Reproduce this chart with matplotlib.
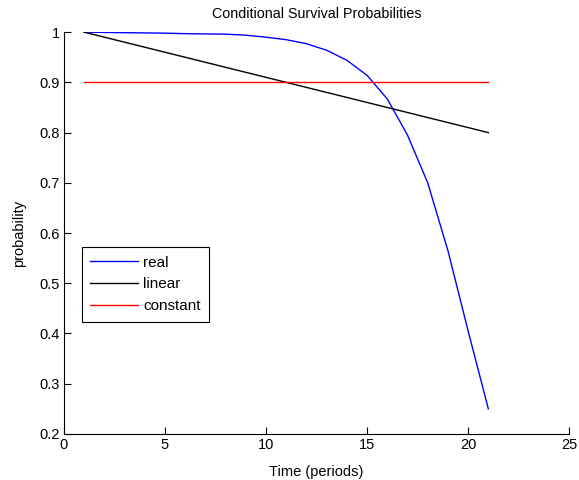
import numpy as np
import matplotlib
matplotlib.use("Agg")
import matplotlib.pyplot as plt

plt.rcParams['font.family'] = ['Liberation Sans', 'DejaVu Sans']

periods = list(range(1, 22))
real = [1.000, 0.9995, 0.999, 0.9985, 0.998, 0.997, 0.9965, 0.996, 0.994, 0.990,
        0.985, 0.977, 0.964, 0.944, 0.914, 0.867, 0.795, 0.700, 0.565, 0.405, 0.250]
linear = [1.00, 0.99, 0.98, 0.97, 0.96, 0.95, 0.94, 0.93, 0.92, 0.91,
          0.90, 0.89, 0.88, 0.87, 0.86, 0.85, 0.84, 0.83, 0.82, 0.81, 0.80]
constant = [0.9] * 21

xticks = [0, 5, 10, 15, 20, 25]
yticks = [0.2, 0.3, 0.4, 0.5, 0.6, 0.7, 0.8, 0.9, 1.0]
yticklabels = ['0.2', '0.3', '0.4', '0.5', '0.6', '0.7', '0.8', '0.9', '1']

fig = plt.figure(figsize=(5.79, 4.8), dpi=100)
ax = fig.add_axes([0.1105, 0.096, 0.8725, 0.837])

ax.plot(periods, real, color='#0000ff', lw=1.0, label='real')
ax.plot(periods, linear, color='black', lw=1.0, label='linear')
ax.plot(periods, constant, color='#ff0000', lw=1.0, label='constant')

ax.set_xlim(0, 25)
ax.set_ylim(0.2, 1.0)
ax.set_xticks(xticks)
ax.set_yticks(yticks)
ax.set_yticklabels(yticklabels)
ax.tick_params(direction='in', length=5, width=0.8, labelsize=10.5, pad=3)
for s in ['top', 'right']:
    ax.spines[s].set_visible(False)
for s in ['left', 'bottom']:
    ax.spines[s].set_linewidth(0.8)

ax.set_title('Conditional Survival Probabilities', fontsize=10.3, pad=10)
ax.set_xlabel('Time (periods)', fontsize=10.5, labelpad=9)
ax.set_ylabel('probability', fontsize=10.5, labelpad=10)

leg = ax.legend(loc='upper left', bbox_to_anchor=(0.0356, 0.465),
                fancybox=False, edgecolor='black', framealpha=1,
                fontsize=11, handlelength=3.15, handletextpad=0.3,
                borderpad=0.55, labelspacing=0.52, borderaxespad=0)
leg.get_frame().set_linewidth(0.8)

fig.savefig('out.png', dpi=100)
